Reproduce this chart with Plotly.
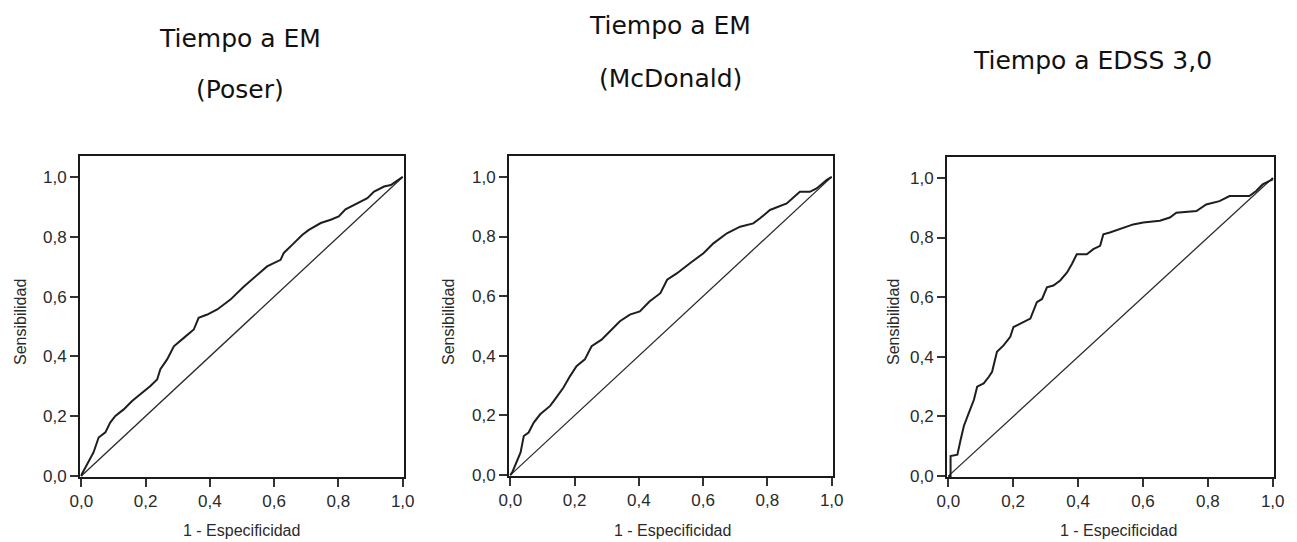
import plotly.graph_objects as go

# ---- data ----
poser_fpr = [0.0, 0.002, 0.038, 0.054, 0.075, 0.09, 0.106, 0.132, 0.158, 0.184, 0.215, 0.236, 0.246, 0.267,
             0.288, 0.319, 0.35, 0.365, 0.392, 0.423, 0.464, 0.506, 0.537, 0.578, 0.62, 0.63, 0.656, 0.688,
             0.708, 0.745, 0.776, 0.801, 0.822, 0.859, 0.89, 0.911, 0.942, 0.963, 0.994, 1.0]
poser_tpr = [0.0, 0.007, 0.079, 0.129, 0.146, 0.179, 0.201, 0.223, 0.251, 0.273, 0.301, 0.323, 0.357, 0.39,
             0.434, 0.462, 0.49, 0.529, 0.54, 0.557, 0.59, 0.634, 0.662, 0.701, 0.723, 0.746, 0.773, 0.807,
             0.823, 0.846, 0.857, 0.868, 0.892, 0.912, 0.929, 0.951, 0.968, 0.973, 0.996, 1.0]

mcd_fpr = [0.0, 0.006, 0.032, 0.042, 0.057, 0.073, 0.093, 0.124, 0.139, 0.165, 0.186, 0.206, 0.232, 0.253,
           0.284, 0.310, 0.341, 0.372, 0.403, 0.433, 0.467, 0.488, 0.519, 0.560, 0.601, 0.632, 0.674, 0.715,
           0.756, 0.777, 0.808, 0.860, 0.901, 0.932, 0.953, 0.984, 1.0]
mcd_tpr = [0.0, 0.009, 0.076, 0.131, 0.143, 0.176, 0.204, 0.232, 0.254, 0.293, 0.332, 0.365, 0.388, 0.432,
           0.454, 0.482, 0.516, 0.538, 0.549, 0.582, 0.61, 0.655, 0.677, 0.711, 0.744, 0.777, 0.811, 0.833,
           0.844, 0.861, 0.889, 0.911, 0.95, 0.95, 0.961, 0.989, 1.0]

edss_fpr = [0.0, 0.007, 0.007, 0.028, 0.038, 0.048, 0.063, 0.079, 0.089, 0.109, 0.125, 0.135, 0.150, 0.171, 0.191,
            0.201, 0.222, 0.253, 0.273, 0.289, 0.304, 0.324, 0.345, 0.366, 0.381, 0.396, 0.427, 0.447, 0.468,
            0.478, 0.498, 0.539, 0.570, 0.601, 0.652, 0.683, 0.703, 0.765, 0.795, 0.836, 0.867, 0.928, 0.949,
            0.969, 0.998, 1.0]
edss_tpr = [0.0, 0.0, 0.067, 0.072, 0.122, 0.168, 0.211, 0.256, 0.300, 0.311, 0.333, 0.350, 0.417, 0.439, 0.467,
            0.500, 0.511, 0.528, 0.583, 0.594, 0.633, 0.639, 0.656, 0.683, 0.711, 0.744, 0.744, 0.761, 0.772,
            0.811, 0.817, 0.833, 0.844, 0.850, 0.856, 0.867, 0.883, 0.889, 0.911, 0.922, 0.939, 0.939, 0.956,
            0.978, 0.994, 1.0]

diag = [0.0, 1.0]
tick_vals = [0.0, 0.2, 0.4, 0.6, 0.8, 1.0]
tick_text = ["0,0", "0,2", "0,4", "0,6", "0,8", "1,0"]
x_title = "1 - Especificidad"
y_title = "Sensibilidad"

panels = [
    (poser_fpr, poser_tpr, "Tiempo a EM", "(Poser)"),
    (mcd_fpr, mcd_tpr, "Tiempo a EM", "(McDonald)"),
    (edss_fpr, edss_tpr, "Tiempo a EDSS 3,0", None),
]

OFF = 8
SW, SH = 1297, 542
W, H = SW - OFF, SH - OFF


def px(x):
    return (x - OFF) / W


def py(y):
    return 1 - (y - OFF) / H


boxes = [(80, 404, 156, 477), (509, 833, 156, 476), (947, 1274, 157, 477)]
title_pos = [((240, 38), (240, 90)), ((670, 26), (670, 78)), ((1092, 60), None)]
ytitle_pos = [(20, 322), (448, 322), (893, 322)]
xtitle_pos = [(241, 530), (672, 530), (1118, 530)]

axfont = dict(family="Liberation Sans, Arial", size=16, color="#2a2a2a")

fig = go.Figure()
for i, (fx, ty, t1, t2) in enumerate(panels):
    n = "" if i == 0 else str(i + 1)
    fig.add_trace(go.Scatter(x=diag, y=diag, mode="lines", line=dict(color="#2a2a2a", width=1.3),
                             xaxis="x" + n, yaxis="y" + n, showlegend=False, hoverinfo="skip"))
    fig.add_trace(go.Scatter(x=fx, y=ty, mode="lines", line=dict(color="#1e1e1e", width=2),
                             xaxis="x" + n, yaxis="y" + n, showlegend=False))
    x0, x1, y0, y1 = boxes[i]
    axcommon = dict(showgrid=False, zeroline=False, showline=True, linecolor="#1a1a1a", linewidth=2,
                    mirror=True, ticks="outside", ticklen=8, tickwidth=1.5, tickcolor="#333",
                    tickvals=tick_vals, ticktext=tick_text, automargin=False,
                    tickfont=dict(family="Liberation Sans, Arial", size=17, color="#2a2a2a"))
    fig.layout["xaxis" + n] = dict(axcommon, domain=[px(x0), px(x1)], range=[-0.004, 1.004],
                                   anchor="y" + n)
    fig.layout["yaxis" + n] = dict(axcommon, domain=[py(y1), py(y0)], range=[-0.003, 1.07],
                                   anchor="x" + n)
    p1, p2 = title_pos[i]
    fig.add_annotation(text=t1, x=px(p1[0]), y=py(p1[1]), xref="paper", yref="paper",
                       showarrow=False, xanchor="center", yanchor="middle",
                       font=dict(family="DejaVu Sans", size=25, color="#111"))
    if t2:
        fig.add_annotation(text=t2, x=px(p2[0]), y=py(p2[1]), xref="paper", yref="paper",
                           showarrow=False, xanchor="center", yanchor="middle",
                           font=dict(family="DejaVu Sans", size=25, color="#111"))
    yx, yy = ytitle_pos[i]
    fig.add_annotation(text=y_title, x=px(yx), y=py(yy), xref="paper", yref="paper", textangle=-90,
                       showarrow=False, xanchor="center", yanchor="middle", font=axfont)
    xx, xy = xtitle_pos[i]
    fig.add_annotation(text=x_title, x=px(xx), y=py(xy), xref="paper", yref="paper",
                       showarrow=False, xanchor="center", yanchor="middle", font=axfont)

fig.update_layout(width=W, height=H, margin=dict(l=0, r=0, t=0, b=0, autoexpand=False),
                  paper_bgcolor="white", plot_bgcolor="white", showlegend=False)
fig.write_html("out.html")
